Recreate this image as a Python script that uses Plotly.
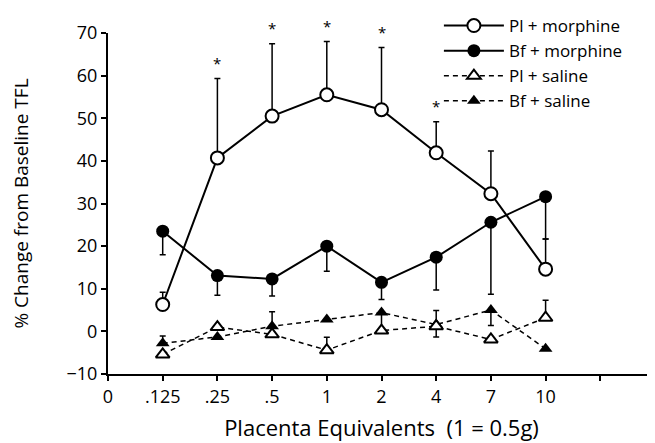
import plotly.graph_objects as go

# x axis categories (last one is an unlabeled tick)
tick_labels = ["0", ".125", ".25", ".5", "1", "2", "4", "7", "10", ""]
doses = [".125", ".25", ".5", "1", "2", "4", "7", "10"]

pl_morph = [6.3, 40.7, 50.5, 55.5, 52.0, 41.9, 32.3, 14.6]
pl_morph_up = [2.9, 18.6, 17.0, 12.5, 14.6, 7.3, 10.0, 7.1]
bf_morph = [23.5, 13.1, 12.3, 20.0, 11.5, 17.4, 25.6, 31.6]
bf_morph_dn = [5.5, 4.6, 4.0, 5.9, 4.0, 7.7, 16.9, 9.9]
pl_sal = [-5.4, 1.0, -0.7, -4.4, 0.2, 1.2, -1.9, 3.2]
pl_sal_up = [None, None, None, 3.0, None, None, None, 4.1]
bf_sal = [-2.8, -1.3, 1.2, 2.8, 4.4, 1.6, 5.0, -4.1]
bf_sal_up = [1.7, None, 3.4, None, None, 3.3, None, None]
bf_sal_dn = [None, None, None, None, 4.0, 2.9, 3.6, None]
star_doses = [".25", ".5", "1", "2", "4"]

x = [tick_labels.index(d) for d in doses]
font = "Open Sans, DejaVu Sans, sans-serif"

fig = go.Figure()

fig.add_trace(go.Scatter(
    x=x, y=bf_sal, mode="lines+markers", name="Bf + saline",
    line=dict(color="black", width=1.5, dash="5px,4px"),
    marker=dict(symbol="triangle-up", size=12, color="black"),
    error_y=dict(type="data", symmetric=False, array=bf_sal_up,
                 arrayminus=bf_sal_dn, color="black", thickness=1.5, width=3)
))
fig.add_trace(go.Scatter(
    x=x, y=pl_sal, mode="lines+markers", name="Pl + saline",
    line=dict(color="black", width=1.5, dash="5px,4px"),
    marker=dict(symbol="triangle-up", size=12, color="white",
                line=dict(color="black", width=2)),
    error_y=dict(type="data", symmetric=False, array=pl_sal_up,
                 arrayminus=[None] * len(pl_sal), color="black", thickness=1.5, width=3)
))
fig.add_trace(go.Scatter(
    x=x, y=bf_morph, mode="lines+markers", name="Bf + morphine",
    line=dict(color="black", width=2),
    marker=dict(symbol="circle", size=13, color="black"),
    error_y=dict(type="data", symmetric=False, array=[None] * len(bf_morph),
                 arrayminus=bf_morph_dn, color="black", thickness=1.5, width=3)
))
fig.add_trace(go.Scatter(
    x=x, y=pl_morph, mode="lines+markers", name="Pl + morphine",
    line=dict(color="black", width=2),
    marker=dict(symbol="circle", size=13, color="white",
                line=dict(color="black", width=2)),
    error_y=dict(type="data", symmetric=False, array=pl_morph_up,
                 arrayminus=[None] * len(pl_morph), color="black", thickness=1.5, width=3)
))

# significance asterisks just above the error bar caps
for d in star_doses:
    i = doses.index(d)
    fig.add_annotation(x=tick_labels.index(d), y=pl_morph[i] + pl_morph_up[i] + 0.8,
                       text="*", showarrow=False, yanchor="bottom",
                       font=dict(size=15, color="black"))

# the page adds an 8px body margin, so the figure is 8px smaller on each side
fig.update_layout(
    width=647, height=435,
    margin=dict(l=100, r=0, t=25, b=69, autoexpand=False),
    plot_bgcolor="white", paper_bgcolor="white",
    font=dict(family=font, size=18, color="black"),
    legend=dict(x=0.666, y=1.03, xref="container", yref="container",
                xanchor="left", yanchor="top",
                traceorder="reversed", itemwidth=60,
                font=dict(size=17), tracegroupgap=0,
                bgcolor="rgba(0,0,0,0)"),
    xaxis=dict(
        range=[0, 10], tickvals=list(range(len(tick_labels))), ticktext=tick_labels,
        showgrid=False, zeroline=False, showline=True, linecolor="black", linewidth=2,
        ticks="outside", ticklen=5, tickwidth=2, tickcolor="black", automargin=False,
        title=dict(text="Placenta Equivalents\u00a0\u00a0(1 = 0.5g)", standoff=14),
    ),
    yaxis=dict(
        range=[-10, 70], dtick=10,
        showgrid=False, zeroline=False, showline=True, linecolor="black", linewidth=2,
        ticks="outside", ticklen=5, tickwidth=2, tickcolor="black", automargin=False,
        title=dict(text="% Change from Baseline TFL", standoff=34,
                   font=dict(family=font, size=19, color="black")),
    ),
)

fig.write_html("out.html")
